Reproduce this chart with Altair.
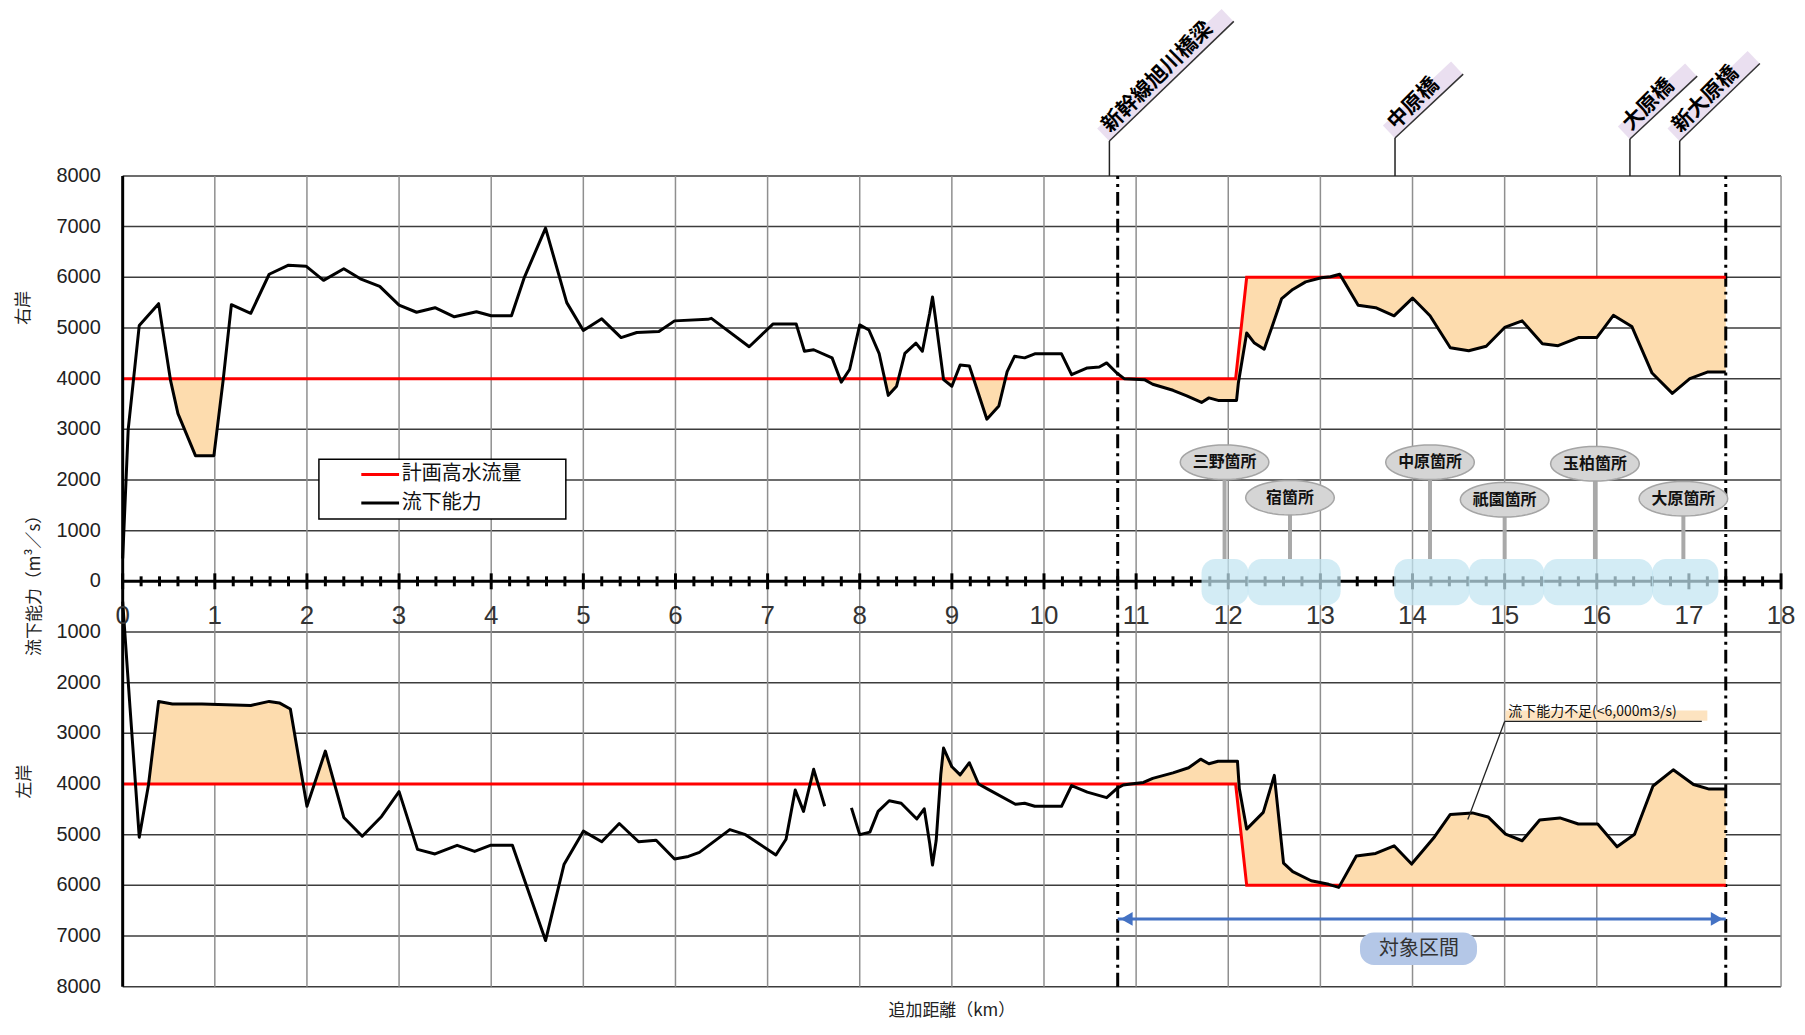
import altair as alt
import pandas as pd
import numpy as np

# ---------------- data ----------------
km_labels = list(range(0, 19))
grid_km = [1, 2, 3, 4, 5, 6, 7, 8, 9, 10, 11, 12, 13, 14, 15, 16, 18]
y_ticks = list(range(-8000, 8001, 1000))

# right bank (右岸) flow capacity
right_x = [0, 0.06, 0.18, 0.39, 0.52, 0.6, 0.79, 0.99, 1.09, 1.18, 1.39, 1.59, 1.8, 1.99, 2.18, 2.4,
           2.58, 2.79, 3.0, 3.19, 3.39, 3.6, 3.84, 4.0, 4.22, 4.36, 4.59, 4.82, 5.0, 5.2, 5.41, 5.58,
           5.82, 5.99, 6.35, 6.39, 6.8, 7.06, 7.31, 7.4, 7.5, 7.7, 7.8, 7.89, 8.0, 8.1, 8.21, 8.31,
           8.4, 8.49, 8.61, 8.68, 8.76, 8.79, 8.82, 8.91, 9.0, 9.09, 9.19, 9.38, 9.51, 9.6, 9.68,
           9.79, 9.9, 10.19, 10.3, 10.47, 10.6, 10.68, 10.79, 10.87, 11.09, 11.18, 11.4, 11.55,
           11.71, 11.79, 11.89, 12.09, 12.11, 12.2, 12.28, 12.39, 12.48, 12.58, 12.7, 12.84, 13.01,
           13.11, 13.21, 13.26, 13.41, 13.6, 13.8, 14.0, 14.19, 14.41, 14.61, 14.8, 15.0, 15.19,
           15.41, 15.58, 15.8, 16.0, 16.18, 16.38, 16.6, 16.82, 17.01, 17.2, 17.4]
right_q = [450, 3000, 5050, 5480, 3960, 3310, 2480, 2480, 3960, 5460, 5290, 6060, 6240, 6220, 5940, 6170,
           5970, 5820, 5450, 5310, 5400, 5220, 5320, 5240, 5240, 6000, 6970, 5500, 4950, 5180, 4810, 4910,
           4930, 5140, 5170, 5190, 4630, 5080, 5080, 4540, 4570, 4410, 3930, 4180, 5060, 4960, 4500, 3670,
           3850, 4500, 4700, 4540, 5290, 5610, 5220, 3980, 3850, 4270, 4250, 3200, 3460, 4140, 4440,
           4410, 4490, 4490, 4080, 4210, 4230, 4310, 4110, 4000, 3980, 3890, 3770, 3660,
           3530, 3620, 3570, 3570, 3920, 4900, 4710, 4580, 5050, 5580, 5760, 5910, 5990,
           6010, 6060, 5910, 5450, 5400, 5240, 5590, 5240, 4610, 4550, 4640, 5010, 5140,
           4690, 4650, 4810, 4810, 5250, 5030, 4110, 3710, 4000, 4130, 4130]

# left bank (左岸) flow capacity, two pieces (gap near 7.7 km)
left_x1 = [0, 0.08, 0.18, 0.28, 0.39, 0.54, 0.86, 1.39, 1.59, 1.7, 1.82, 2.0, 2.2, 2.4, 2.6, 2.81, 3.0,
           3.2, 3.39, 3.63, 3.82, 3.99, 4.23, 4.59, 4.79, 5.0, 5.2, 5.39, 5.6, 5.79, 5.99, 6.14, 6.26,
           6.59, 6.76, 7.09, 7.2, 7.3, 7.39, 7.5, 7.62]
left_q1 = [400, 2500, 5050, 4020, 2370, 2420, 2420, 2450, 2370, 2400, 2520, 4440, 3350, 4660, 5030, 4640, 4150,
           5290, 5380, 5210, 5330, 5210, 5210, 7090, 5590, 4930, 5140, 4780, 5140, 5110, 5480, 5430, 5350,
           4900, 5000, 5400, 5090, 4120, 4540, 3710, 4440]
left_x2 = [7.91, 8.0, 8.11, 8.2, 8.32, 8.45, 8.62, 8.7, 8.76, 8.79, 8.83, 8.88, 8.91, 9.0, 9.09, 9.19, 9.29,
           9.39, 9.69, 9.79, 9.9, 10.19, 10.3, 10.47, 10.68, 10.79, 10.86, 10.94, 11.08, 11.18, 11.4,
           11.57, 11.7, 11.79, 11.89, 12.1, 12.12, 12.2, 12.38, 12.5, 12.6, 12.7, 12.9, 13.09, 13.2,
           13.39, 13.6, 13.8, 13.99, 14.24, 14.41, 14.65, 14.82, 15.01, 15.19, 15.38, 15.6, 15.8,
           16.01, 16.22, 16.41, 16.61, 16.83, 17.05, 17.22, 17.4]
left_q2 = [4470, 5000, 4950, 4540, 4330, 4380, 4690, 4490, 5180, 5600, 5110, 3810, 3290, 3660, 3820, 3580, 4000,
           4100, 4400, 4380, 4440, 4440, 4030, 4160, 4270, 4090, 4020, 4000, 3970, 3890, 3780,
           3680, 3510, 3600, 3550, 3550, 4090, 4890, 4560, 3830, 5560, 5730, 5910, 5980, 6040,
           5420, 5370, 5220, 5580, 5040, 4600, 4570, 4650, 4990, 5120, 4710, 4670, 4790,
           4790, 5240, 4990, 4040, 3720, 4010, 4100, 4100]

# planned high-water discharge (計画高水流量)
plan_x = [0, 12.08, 12.2, 17.4]
plan_q = [4000, 4000, 6000, 6000]

section_x = [10.8, 17.4]
fill_start = 0.16

bridge_names = ["新幹線旭川橋梁", "中原橋", "大原橋", "新大原橋"]
bridge_x = [10.71, 13.81, 16.36, 16.9]
bridge_top = [8690, 8750, 8730, 8690]
bridge_end_x = [12.06, 14.55, 17.09, 17.77]
bridge_end_y = [11050, 10010, 9970, 10220]

spot_names = ["三野箇所", "宿箇所", "中原箇所", "祇園箇所", "玉柏箇所", "大原箇所"]
spot_x = [11.96, 12.67, 14.19, 15.0, 15.98, 16.94]
spot_y = [2350, 1650, 2350, 1610, 2320, 1630]
zone_start = [11.71, 12.21, 13.8, 14.61, 15.42, 16.6]
zone_end = [12.22, 13.22, 14.62, 15.43, 16.61, 17.32]

# ---------------- helpers ----------------
XS = alt.Scale(domain=[0, 18], nice=False, zero=False)
YS = alt.Scale(domain=[-8000, 8000], nice=False, zero=False)
JP = "Noto Sans CJK JP"
NUM = "Liberation Sans"


def X(f="x"):
    return alt.X(f"{f}:Q", scale=XS, axis=None)


def Y(f="y"):
    return alt.Y(f"{f}:Q", scale=YS, axis=None)


def deficit(xs, qs, sign, seg):
    xs = np.asarray(xs, float)
    qs = np.asarray(qs, float)
    lo_x = max(xs[0], fill_start)
    hi_x = min(xs[-1], plan_x[-1])
    pts = {lo_x, hi_x}
    pts |= {v for v in xs if lo_x <= v <= hi_x}
    pts |= {v for v in plan_x if lo_x <= v <= hi_x}
    g = np.array(sorted(pts))
    d = np.interp(g, xs, qs) - np.interp(g, plan_x, plan_q)
    extra = []
    for i in range(len(g) - 1):
        if d[i] * d[i + 1] < 0:
            t = d[i] / (d[i] - d[i + 1])
            extra.append(g[i] + t * (g[i + 1] - g[i]))
    g = np.array(sorted(set(g.tolist()) | set(extra)))
    c = np.interp(g, xs, qs)
    p = np.interp(g, plan_x, plan_q)
    lo = np.minimum(c, p)
    return pd.DataFrame({"x": g, "y": sign * lo, "y2": sign * p, "seg": seg})


fill_df = pd.concat([
    deficit(right_x, right_q, 1, "r"),
    deficit(left_x1, left_q1, -1, "l1"),
    deficit(left_x2, left_q2, -1, "l2"),
])

plan_df = pd.concat([
    pd.DataFrame({"x": plan_x, "y": plan_q, "g": "r"}),
    pd.DataFrame({"x": plan_x, "y": [-v for v in plan_q], "g": "l"}),
])
cap_df = pd.concat([
    pd.DataFrame({"x": right_x, "y": right_q, "g": "r"}),
    pd.DataFrame({"x": left_x1, "y": [-v for v in left_q1], "g": "l1"}),
    pd.DataFrame({"x": left_x2, "y": [-v for v in left_q2], "g": "l2"}),
])

# ---------------- grid & axes (drawn as marks) ----------------
hgrid = alt.Chart(pd.DataFrame({"y": y_ticks, "x": 0, "x2": 18})).mark_rule(
    color="#3c3c3c", strokeWidth=1.5).encode(x=X(), x2="x2:Q", y=Y())
vgrid = alt.Chart(pd.DataFrame({"x": grid_km, "y": -8000, "y2": 8000})).mark_rule(
    color="#8f8f8f", strokeWidth=1.5).encode(x=X(), y=Y(), y2="y2:Q")
ydomain = alt.Chart(pd.DataFrame({"x": [0], "y": [-8000], "y2": [8000]})).mark_rule(
    color="#000", strokeWidth=3).encode(x=X(), y=Y(), y2="y2:Q")
ylab = alt.Chart(pd.DataFrame({"y": y_ticks, "x": 0, "t": [str(abs(v)) for v in y_ticks]})).mark_text(
    font=NUM, fontSize=20, color="#222", align="right", baseline="middle", dx=-22).encode(
    x=X(), y=Y(), text="t:N")

fill_layer = alt.Chart(fill_df).mark_area(color="#fddcae", opacity=1).encode(
    x=X(), y=Y(), y2="y2:Q", detail="seg:N")

plan_layer = alt.Chart(plan_df).mark_line(color="#ff0000", strokeWidth=3).encode(
    x=X(), y=Y(), detail="g:N")
cap_layer = alt.Chart(cap_df).mark_line(color="#000000", strokeWidth=3, strokeJoin="round").encode(
    x=X(), y=Y(), detail="g:N")

sec_df = pd.DataFrame({"x": section_x, "y": [-8000] * 2, "y2": [8000] * 2})
sec_layer = alt.Chart(sec_df).mark_rule(color="#000", strokeWidth=3, strokeDash=[14, 5, 3, 5]).encode(
    x=X(), y=Y(), y2="y2:Q")

zero_df = pd.DataFrame({"x": [0], "x2": [18], "y": [0]})
zero_layer = alt.Chart(zero_df).mark_rule(color="#000", strokeWidth=3).encode(x=X(), x2="x2:Q", y=Y())

minor = [round(i * 0.2, 1) for i in range(0, 91) if i % 5 != 0]
major = list(range(0, 19))
minor_layer = alt.Chart(pd.DataFrame({"x": minor, "y": 0})).mark_rule(
    color="#000", strokeWidth=3, yOffset=-5, y2Offset=5).encode(x=X(), y=Y(), y2="y:Q")
major_layer = alt.Chart(pd.DataFrame({"x": major, "y": 0})).mark_rule(
    color="#000", strokeWidth=3, yOffset=-8, y2Offset=8).encode(x=X(), y=Y(), y2="y:Q")

zone_df = pd.DataFrame({"x": zone_start, "x2": zone_end, "y": [440] * 6, "y2": [-470] * 6})
zone_layer = alt.Chart(zone_df).mark_rect(color="#c2e5f1", opacity=0.72, cornerRadius=14).encode(
    x=X(), x2="x2:Q", y=Y(), y2="y2:Q")

xlab_df = pd.DataFrame({"x": km_labels, "y": 0, "t": [str(v) for v in km_labels]})
xlab_layer = alt.Chart(xlab_df).mark_text(font=NUM, fontSize=26, color="#333", dy=35,
                                          baseline="middle", align="center").encode(
    x=X(), y=Y(), text="t:N")

# y axis titles (x positions expressed in km to the left of the axis)
ytitle_df = pd.DataFrame({"t": ["右岸", "流下能力（m³／s）", "左岸"], "y": [5400, 0, -3950],
                          "x": [-1.07, -0.95, -1.06]})
ytitle_layer = alt.Chart(ytitle_df).mark_text(font=JP, fontSize=17, angle=270, color="#222",
                                              baseline="middle", align="center").encode(
    x=X(), y=Y(), text="t:N")

xtitle_df = pd.DataFrame({"x": [9], "y": [-8000], "t": ["追加距離（km）"]})
xtitle_layer = alt.Chart(xtitle_df).mark_text(font=JP, fontSize=17, color="#222", dy=24,
                                              baseline="middle").encode(x=X(), y=Y(), text="t:N")

# legend (manual)
leg_box = alt.Chart(pd.DataFrame({"x": [2.13], "x2": [4.81], "y": [2410], "y2": [1230]})).mark_rect(
    fill="#ffffff", stroke="#000", strokeWidth=1.5).encode(x=X(), x2="x2:Q", y=Y(), y2="y2:Q")
leg_lines_df = pd.DataFrame({"x": [2.59, 2.59], "x2": [3.0, 3.0], "y": [2110, 1545],
                             "c": ["#ff0000", "#000000"]})
leg_lines = alt.Chart(leg_lines_df).mark_rule(strokeWidth=3).encode(
    x=X(), x2="x2:Q", y=Y(), color=alt.Color("c:N", scale=None))
leg_text_df = pd.DataFrame({"x": [3.03, 3.03], "y": [2110, 1545], "t": ["計画高水流量", "流下能力"]})
leg_text = alt.Chart(leg_text_df).mark_text(font=JP, fontSize=20, align="left", baseline="middle",
                                            color="#111").encode(x=X(), y=Y(), text="t:N")

# bridges on top
br_df = pd.DataFrame({"x": bridge_x, "y": [8000] * 4, "ytop": bridge_top,
                      "xe": bridge_end_x, "ye": bridge_end_y, "t": bridge_names})
br_band = alt.Chart(br_df).mark_rule(color="#eadff0", strokeWidth=18, xOffset=-6, yOffset=-6,
                                     x2Offset=-6, y2Offset=-6).encode(
    x=X(), y=Y("ytop"), x2="xe:Q", y2="ye:Q")
br_vert = alt.Chart(br_df).mark_rule(color="#222", strokeWidth=1.5).encode(x=X(), y=Y(), y2="ytop:Q")
br_diag = alt.Chart(br_df).mark_rule(color="#333", strokeWidth=1.5).encode(
    x=X(), y=Y("ytop"), x2="xe:Q", y2="ye:Q")
br_text = alt.Chart(br_df).mark_text(font=JP, fontSize=21, fontWeight="bold", angle=315, align="left",
                                     baseline="alphabetic", dx=6, dy=-5, color="#000").encode(
    x=X(), y=Y("ytop"), text="t:N")

# spot bubbles
n = 48
ang = np.linspace(0, 2 * np.pi, n, endpoint=False)
ELL = "M" + "L".join(f"{np.cos(a):.3f},{0.39 * np.sin(a):.3f}" for a in ang) + "Z"
sp_df = pd.DataFrame({"x": spot_x, "y": spot_y, "y2": [440] * 6, "t": spot_names})
sp_pin = alt.Chart(sp_df).mark_rule(color="#a9a9a9", strokeWidth=4).encode(x=X(), y=Y(), y2="y2:Q")
sp_ell = alt.Chart(sp_df).mark_point(shape=ELL, size=7900, filled=True, color="#d5d5d5", stroke="#a5a5a5",
                                     strokeWidth=1.5, opacity=1).encode(x=X(), y=Y())
sp_text = alt.Chart(sp_df).mark_text(font=JP, fontSize=16, fontWeight="bold", color="#111",
                                     baseline="middle").encode(x=X(), y=Y(), text="t:N")

# deficit annotation
ann_band = alt.Chart(pd.DataFrame({"x": [15.01], "x2": [17.2], "y": [-2550], "y2": [-2750]})).mark_rect(
    color="#fde3c0").encode(x=X(), x2="x2:Q", y=Y(), y2="y2:Q")
ann_lines = alt.Chart(pd.DataFrame({"x": [15.0, 15.0], "x2": [17.14, 14.6], "y": [-2766, -2766],
                                    "y2": [-2766, -4700]})).mark_rule(color="#222", strokeWidth=1.3).encode(
    x=X(), x2="x2:Q", y=Y(), y2="y2:Q")
ann_text = alt.Chart(pd.DataFrame({"x": [15.04], "y": [-2660], "t": ["流下能力不足(<6,000m3/s)"]})).mark_text(
    font=JP, fontSize=14, align="left", baseline="alphabetic", color="#111").encode(x=X(), y=Y(), text="t:N")

# target section arrow
arr_df = pd.DataFrame({"x": [section_x[0]], "x2": [section_x[1]], "y": [-6663]})
arr_line = alt.Chart(arr_df).mark_rule(color="#4472c4", strokeWidth=3).encode(x=X(), x2="x2:Q", y=Y())
arr_l = alt.Chart(pd.DataFrame({"x": [section_x[0]], "y": [-6663]})).mark_point(
    shape="triangle-left", size=190, filled=True, color="#4472c4", opacity=1, xOffset=9).encode(x=X(), y=Y())
arr_r = alt.Chart(pd.DataFrame({"x": [section_x[1]], "y": [-6663]})).mark_point(
    shape="triangle-right", size=190, filled=True, color="#4472c4", opacity=1, xOffset=-9).encode(x=X(), y=Y())
sec_box = alt.Chart(pd.DataFrame({"x": [13.43], "x2": [14.7], "y": [-6930], "y2": [-7570]})).mark_rect(
    color="#b4c7e7", cornerRadius=14).encode(x=X(), x2="x2:Q", y=Y(), y2="y2:Q")
sec_text = alt.Chart(pd.DataFrame({"x": [14.07], "y": [-7250], "t": ["対象区間"]})).mark_text(
    font=JP, fontSize=20, color="#333", baseline="middle").encode(x=X(), y=Y(), text="t:N")

chart = alt.layer(
    hgrid, vgrid, fill_layer, sec_layer, zero_layer, minor_layer, major_layer, plan_layer, cap_layer,
    ydomain, ylab, sp_pin, zone_layer, sp_ell, sp_text, xlab_layer, ytitle_layer, xtitle_layer,
    leg_box, leg_lines, leg_text, br_band, br_vert, br_diag, br_text,
    ann_band, ann_lines, ann_text, arr_line, arr_l, arr_r, sec_box, sec_text,
).properties(
    width=1663, height=813,
    autosize=alt.AutoSizeParams(type="none"),
    padding={"left": 115, "top": 167, "right": 16, "bottom": 37},
).configure_view(stroke=None)

chart.save("out.html", embed_options={"renderer": "svg", "actions": False})
